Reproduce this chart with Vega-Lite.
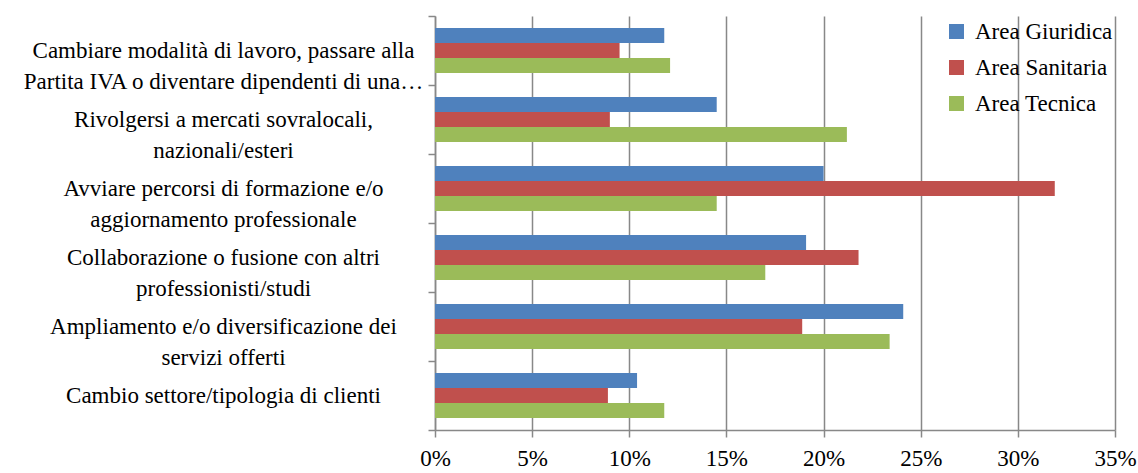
{
  "$schema": "https://vega.github.io/schema/vega-lite/v6.json",
  "width": 680,
  "height": 414,
  "autosize": {"type": "none"},
  "padding": {"left": 435, "top": 16, "right": 23, "bottom": 43},
  "background": "white",
  "config": {
    "font": "Liberation Serif",
    "view": {"stroke": null}
  },
  "data": {
    "values": [
      {"category": "Cambiare modalità di lavoro, passare alla|Partita IVA o diventare dipendenti di una…", "series": "Area Giuridica", "value": 11.8},
      {"category": "Cambiare modalità di lavoro, passare alla|Partita IVA o diventare dipendenti di una…", "series": "Area Sanitaria", "value": 9.5},
      {"category": "Cambiare modalità di lavoro, passare alla|Partita IVA o diventare dipendenti di una…", "series": "Area Tecnica", "value": 12.1},
      {"category": "Rivolgersi a mercati sovralocali,|nazionali/esteri", "series": "Area Giuridica", "value": 14.5},
      {"category": "Rivolgersi a mercati sovralocali,|nazionali/esteri", "series": "Area Sanitaria", "value": 9.0},
      {"category": "Rivolgersi a mercati sovralocali,|nazionali/esteri", "series": "Area Tecnica", "value": 21.2},
      {"category": "Avviare percorsi di formazione e/o|aggiornamento professionale", "series": "Area Giuridica", "value": 20.0},
      {"category": "Avviare percorsi di formazione e/o|aggiornamento professionale", "series": "Area Sanitaria", "value": 31.9},
      {"category": "Avviare percorsi di formazione e/o|aggiornamento professionale", "series": "Area Tecnica", "value": 14.5},
      {"category": "Collaborazione o fusione con altri|professionisti/studi", "series": "Area Giuridica", "value": 19.1},
      {"category": "Collaborazione o fusione con altri|professionisti/studi", "series": "Area Sanitaria", "value": 21.8},
      {"category": "Collaborazione o fusione con altri|professionisti/studi", "series": "Area Tecnica", "value": 17.0},
      {"category": "Ampliamento e/o diversificazione dei|servizi offerti", "series": "Area Giuridica", "value": 24.1},
      {"category": "Ampliamento e/o diversificazione dei|servizi offerti", "series": "Area Sanitaria", "value": 18.9},
      {"category": "Ampliamento e/o diversificazione dei|servizi offerti", "series": "Area Tecnica", "value": 23.4},
      {"category": "Cambio settore/tipologia di clienti", "series": "Area Giuridica", "value": 10.4},
      {"category": "Cambio settore/tipologia di clienti", "series": "Area Sanitaria", "value": 8.9},
      {"category": "Cambio settore/tipologia di clienti", "series": "Area Tecnica", "value": 11.8}
    ]
  },
  "mark": {"type": "bar"},
  "encoding": {
    "y": {
      "field": "category",
      "type": "nominal",
      "sort": null,
      "scale": {"paddingInner": 0, "paddingOuter": 0},
      "axis": {
        "title": null,
        "tickBand": "extent",
        "labelExpr": "split(datum.label, '|')",
        "labelAlign": "center",
        "labelPadding": 205,
        "labelFont": "Liberation Serif",
        "labelFontSize": 23,
        "labelLineHeight": 31,
        "labelLimit": 600,
        "labelColor": "black",
        "tickSize": 7,
        "tickColor": "#888888",
        "tickWidth": 1.5,
        "domainColor": "#888888",
        "domainWidth": 1.5,
        "grid": false
      }
    },
    "yOffset": {
      "field": "series",
      "sort": ["Area Giuridica", "Area Sanitaria", "Area Tecnica"],
      "scale": {"paddingOuter": 0.8, "paddingInner": 0}
    },
    "x": {
      "field": "value",
      "type": "quantitative",
      "scale": {"domain": [0, 35], "nice": false},
      "axis": {
        "title": null,
        "values": [0, 5, 10, 15, 20, 25, 30, 35],
        "labelExpr": "datum.value + '%'",
        "grid": true,
        "gridColor": "#888888",
        "gridWidth": 1.5,
        "domainColor": "#888888",
        "domainWidth": 1.5,
        "tickColor": "#888888",
        "tickWidth": 1.5,
        "tickSize": 7,
        "labelFont": "Liberation Serif",
        "labelFontSize": 23,
        "labelPadding": 10,
        "labelColor": "black",
        "labelFlush": false
      }
    },
    "color": {
      "field": "series",
      "type": "nominal",
      "scale": {
        "domain": ["Area Giuridica", "Area Sanitaria", "Area Tecnica"],
        "range": ["#4F81BD", "#C0504D", "#9BBB59"]
      },
      "legend": {
        "title": null,
        "orient": "none",
        "legendX": 510,
        "legendY": 4,
        "symbolType": "square",
        "symbolSize": 225,
        "symbolStrokeWidth": 0,
        "labelFont": "Liberation Serif",
        "labelFontSize": 23,
        "labelColor": "black",
        "labelOffset": 7,
        "rowPadding": 12,
        "labelLimit": 300
      }
    }
  }
}
